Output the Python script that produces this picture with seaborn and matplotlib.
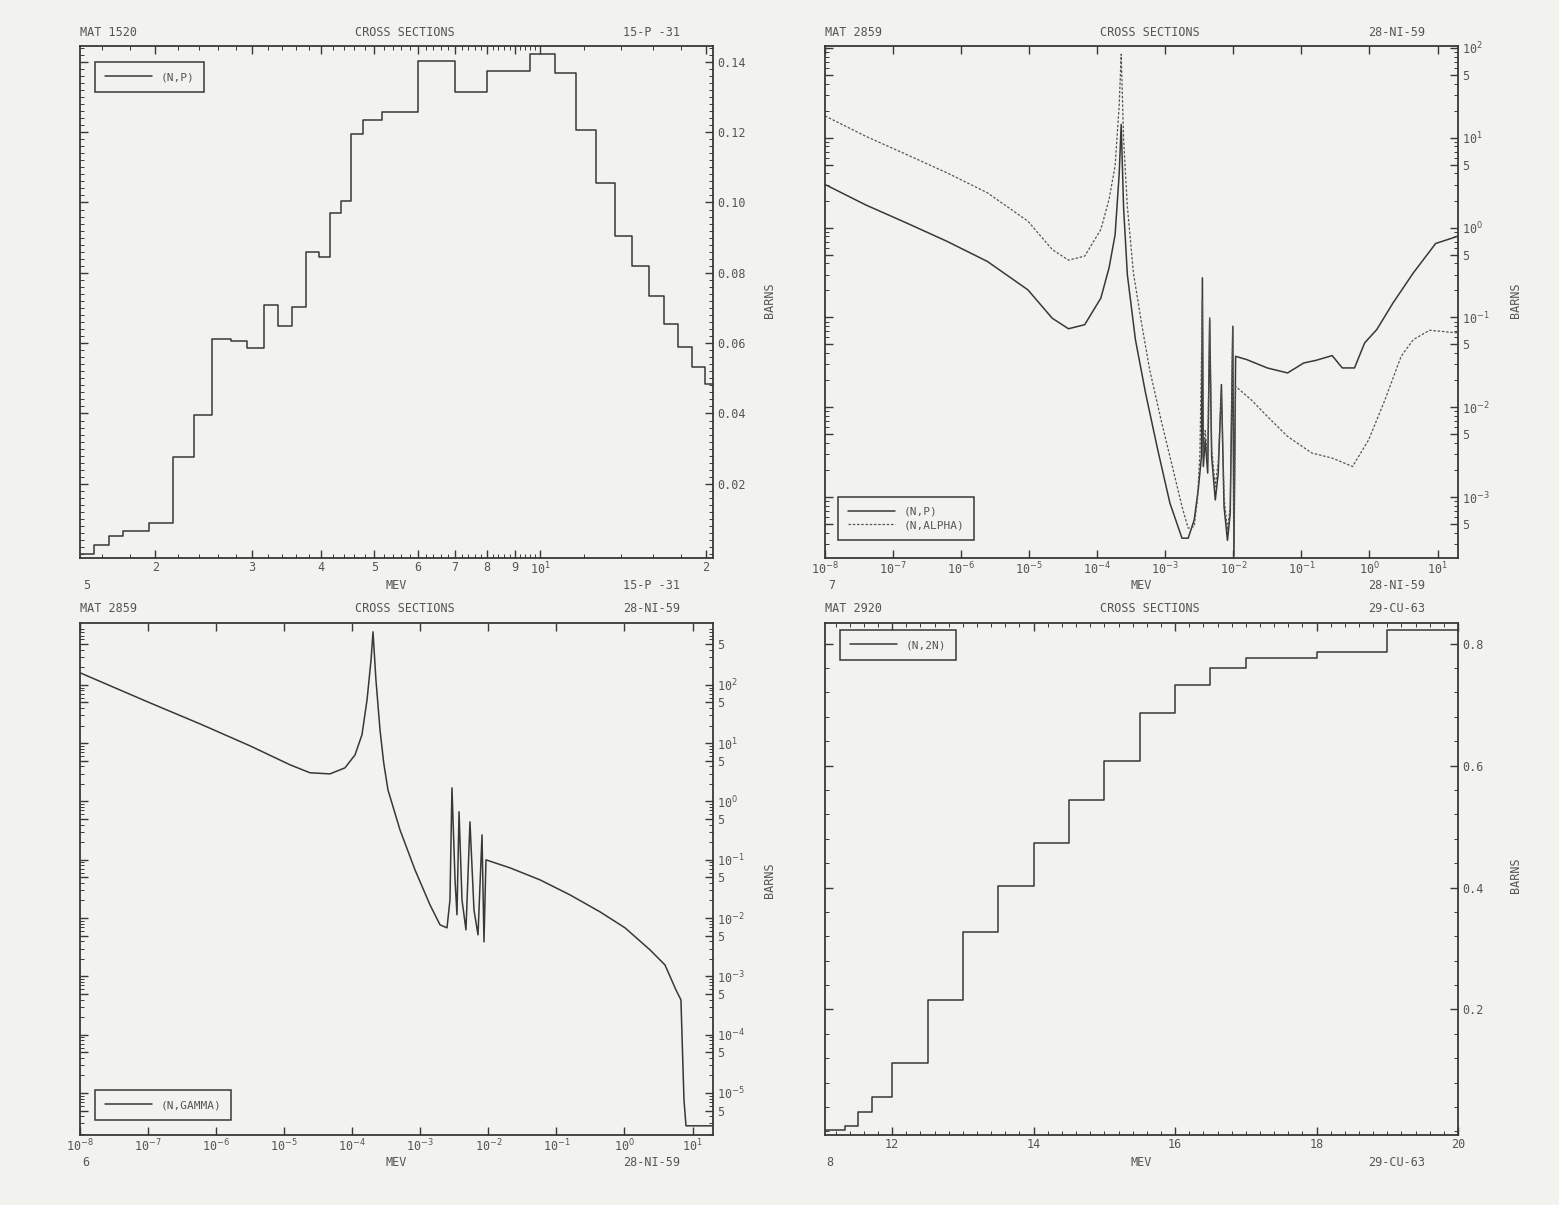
import numpy as np
import pandas as pd
import matplotlib
matplotlib.use("Agg")
import matplotlib.pyplot as plt
import seaborn as sns
from matplotlib.ticker import FixedLocator, FixedFormatter, LogLocator, MultipleLocator, NullFormatter

# ---------------- data ----------------
# Panel 1: MAT 1520, 15-P-31 (N,P) group histogram
p31_edges = [1.46, 1.55, 1.65, 1.75, 1.95, 2.15, 2.35, 2.54, 2.74, 2.94, 3.15, 3.34, 3.54, 3.75,
             3.96, 4.16, 4.35, 4.54, 4.76, 5.17, 6.0, 6.99, 8.01, 9.6, 10.62, 11.63, 12.65, 13.68,
             14.67, 15.78, 16.8, 17.77, 18.89, 19.9, 20.6]
p31_np = [0.0, 0.0026, 0.0052, 0.0067, 0.0088, 0.0276, 0.0396, 0.0612, 0.0605, 0.0586, 0.0709,
          0.0650, 0.0702, 0.0860, 0.0845, 0.0970, 0.1005, 0.1194, 0.1235, 0.1257, 0.1402, 0.1313,
          0.1373, 0.1421, 0.1367, 0.1207, 0.1056, 0.0906, 0.0820, 0.0733, 0.0654, 0.0588, 0.0532,
          0.0484]

# Panel 2: MAT 2859, 28-NI-59 (N,P) and (N,ALPHA)
ni59_np_e = [1e-8, 3.95e-8, 1.56e-7, 6.15e-7, 2.43e-6, 9.57e-6, 2.18e-5, 3.78e-5, 6.54e-5, 1.13e-4,
             1.49e-4, 1.83e-4, 2.10e-4, 2.25e-4, 2.44e-4, 2.77e-4, 3.64e-4, 5.13e-4, 7.74e-4,
             1.17e-3, 1.76e-3, 2.17e-3, 2.66e-3, 3.05e-3, 3.40e-3, 3.51e-3, 3.62e-3, 3.86e-3,
             4.2e-3, 4.49e-3, 4.8e-3, 5.43e-3, 6.0e-3, 6.68e-3, 7.3e-3, 8.20e-3, 9.0e-3, 9.81e-3,
             1.02e-2, 1.08e-2, 1.58e-2, 3.15e-2, 6.26e-2, 0.108, 0.164, 0.283, 0.399, 0.603, 0.849,
             1.28, 2.22, 4.41, 9.39, 20.0]
ni59_np_s = [3.02, 1.79, 1.13, 0.705, 0.42, 0.203, 0.098, 0.0748, 0.083, 0.164, 0.355, 0.83, 3.9,
             14.1, 1.66, 0.30, 0.0566, 0.0144, 3.37e-3, 8.57e-4, 3.49e-4, 3.49e-4, 5.58e-4,
             1.21e-3, 2.84e-3, 0.276, 2.19e-3, 4.35e-3, 1.85e-3, 0.0946, 2.84e-3, 9.3e-4, 1.85e-3,
             0.0179, 7.86e-4, 3.3e-4, 6.6e-4, 0.0797, 2.2e-4, 0.0369, 0.0339, 0.0274, 0.0241,
             0.0311, 0.0333, 0.0376, 0.0274, 0.0274, 0.052, 0.0732, 0.145, 0.313, 0.665, 0.803]
ni59_na_e = [1e-8, 3.95e-8, 1.56e-7, 6.15e-7, 2.43e-6, 9.57e-6, 2.18e-5, 3.78e-5, 6.54e-5, 1.13e-4,
             1.49e-4, 1.83e-4, 2.10e-4, 2.25e-4, 2.44e-4, 2.77e-4, 3.40e-4, 4.47e-4, 5.89e-4,
             8.88e-4, 1.34e-3, 1.76e-3, 2.17e-3, 2.66e-3, 2.97e-3, 3.23e-3, 3.51e-3, 3.62e-3,
             3.86e-3, 4.2e-3, 4.49e-3, 4.8e-3, 5.43e-3, 6.0e-3, 6.68e-3, 7.3e-3, 8.20e-3, 9.0e-3,
             9.81e-3, 1.02e-2, 1.08e-2, 1.82e-2, 3.15e-2, 6.26e-2, 0.1426, 0.283, 0.564, 0.975,
             1.69, 2.92, 4.41, 7.64, 20.0]
ni59_na_s = [17.5, 10.4, 6.53, 4.08, 2.44, 1.18, 0.570, 0.434, 0.481, 0.953, 2.06, 4.84, 22.6, 85.0,
             9.6, 1.73, 0.313, 0.0869, 0.0262, 6.67e-3, 1.85e-3, 7.86e-4, 4.51e-4, 4.71e-4, 9.33e-4,
             3.09e-3, 0.158, 3.0e-3, 5.5e-3, 2.6e-3, 0.099, 3.5e-3, 1.3e-3, 2.5e-3, 0.0144, 1.0e-3,
             4.3e-4, 8.0e-4, 0.080, 3.3e-4, 0.0171, 0.01215, 7.92e-3, 4.74e-3, 3.09e-3, 2.72e-3,
             2.19e-3, 4.35e-3, 0.0121, 0.0369, 0.0566, 0.0720, 0.0672]

# Panel 3: MAT 2859, 28-NI-59 (N,GAMMA)
ni59_ng_e = [1e-8, 1.07e-7, 5.80e-7, 3.15e-6, 1.22e-5, 2.40e-5, 4.71e-5, 7.83e-5, 1.10e-4, 1.39e-4,
             1.65e-4, 1.89e-4, 2.02e-4, 2.23e-4, 2.56e-4, 2.9e-4, 3.35e-4, 5.03e-4, 8.36e-4,
             1.39e-3, 1.95e-3, 2.47e-3, 2.73e-3, 2.92e-3, 3.24e-3, 3.46e-3, 3.71e-3, 4.10e-3,
             4.69e-3, 5.37e-3, 6.15e-3, 7.05e-3, 8.07e-3, 8.63e-3, 9.23e-3, 2.08e-2, 5.74e-2, 0.158,
             0.436, 1.02, 2.37, 3.94, 5.71, 6.76, 7.49, 8.02, 20.0]
ni59_ng_s = [161.0, 49.0, 21.4, 8.99, 4.25, 3.10, 2.97, 3.77, 6.30, 13.9, 55.0, 268.0, 811.0, 122.0,
             16.9, 4.6, 1.58, 0.326, 0.0671, 0.0168, 7.64e-3, 6.79e-3, 0.0205, 1.71, 0.0452, 0.0114,
             0.664, 0.0205, 6.27e-3, 0.447, 0.0138, 5.15e-3, 0.267, 3.91e-3, 0.0995, 0.0726,
             0.0452, 0.0250, 0.0128, 6.79e-3, 2.85e-3, 1.57e-3, 5.86e-4, 3.95e-4, 7.6e-6, 2.73e-6,
             2.73e-6]

# Panel 4: MAT 2920, 29-CU-63 (N,2N) group histogram
cu63_edges = [11.05, 11.33, 11.52, 11.72, 12.0, 12.5, 13.0, 13.5, 14.0, 14.5, 15.0, 15.5, 16.0,
              16.5, 17.0, 18.0, 19.0, 20.0]
cu63_n2n = [0.002, 0.008, 0.031, 0.056, 0.112, 0.215, 0.327, 0.402, 0.473, 0.543, 0.607, 0.687,
            0.732, 0.760, 0.776, 0.787, 0.822]

# tick labels
p31_xticks = [2, 3, 4, 5, 6, 7, 8, 9, 10, 20]
p31_xlabels = ["2", "3", "4", "5", "6", "7", "8", "9", "10$^{1}$", "2"]
lin_p31_yticks = [0.02, 0.04, 0.06, 0.08, 0.10, 0.12, 0.14]
lin_cu_yticks = [0.2, 0.4, 0.6, 0.8]
cu_xticks = [12, 14, 16, 18, 20]
decades_x = [-8, -7, -6, -5, -4, -3, -2, -1, 0, 1]

# ---------------- style ----------------
sns.set_theme(style="ticks")
plt.rcParams["font.family"] = ["DejaVu Sans Mono", "DejaVu Sans"]
plt.rcParams["mathtext.fontset"] = "dejavusans"

PAPER = "#f2f2ef"
INK = "#383838"
TXT = "#555555"
FS = 8.5
W, H = 1559.0, 1205.0

fig = plt.figure(figsize=(15.59, 12.05), dpi=100, facecolor=PAPER)


def make_ax(x0, y0, x1, y1):
    ax = fig.add_axes([x0 / W, 1 - y1 / H, (x1 - x0) / W, (y1 - y0) / H])
    ax.set_facecolor(PAPER)
    for s in ax.spines.values():
        s.set_color(INK)
        s.set_linewidth(1.3)
    ax.tick_params(which="both", direction="in", top=True, right=True, left=True, bottom=True,
                   labelleft=False, labelright=True, labelbottom=True, labeltop=False,
                   colors=INK, labelcolor=TXT, labelsize=FS)
    ax.tick_params(which="major", length=6, width=1.0, pad=3)
    ax.tick_params(which="minor", length=3, width=0.7)
    ax.tick_params(axis="x", which="major", pad=2)
    return ax


def finish(ax):
    ax.set_xlabel("")
    ax.set_ylabel("")


def leg(ax, loc, anchor):
    lg = ax.legend(loc=loc, bbox_to_anchor=anchor, borderaxespad=0, frameon=True, fancybox=False,
                   edgecolor=INK, facecolor=PAPER, framealpha=1, handlelength=4.2,
                   fontsize=FS - 0.5, borderpad=0.9, labelspacing=0.3)
    lg.get_frame().set_linewidth(1.1)
    for t in lg.get_texts():
        t.set_color(TXT)


def log_xaxis(ax):
    ax.set_xscale("log")
    ax.set_xlim(1e-8, 20.0)
    ax.xaxis.set_major_locator(FixedLocator([10.0 ** d for d in decades_x]))
    ax.xaxis.set_major_formatter(FixedFormatter(["10$^{%d}$" % d for d in decades_x]))
    ax.xaxis.set_minor_locator(LogLocator(base=10, subs=np.arange(2, 10)))
    ax.xaxis.set_minor_formatter(NullFormatter())


def log_yaxis(ax, dlist, lo, hi, top5=False):
    pos, lab = [], []
    for d in dlist:
        pos += [10.0 ** d, 5 * 10.0 ** (d - 1)]
        lab += ["10$^{%d}$" % d, "5"]
    if top5:
        pos.append(5 * 10.0 ** dlist[-1])
        lab.append("5")
    ax.set_yscale("log")
    ax.set_ylim(lo, hi)
    ax.yaxis.set_major_locator(FixedLocator(pos))
    ax.yaxis.set_major_formatter(FixedFormatter(lab))
    ax.yaxis.set_minor_locator(LogLocator(base=10, subs=[2, 3, 4, 6, 7, 8, 9]))
    ax.yaxis.set_minor_formatter(NullFormatter())


# ---------------- panel 1 ----------------
ax1 = make_ax(80, 46, 713, 558)
df1 = pd.DataFrame({"E": p31_edges, "S": p31_np + [p31_np[-1]]})
sns.lineplot(data=df1, x="E", y="S", ax=ax1, estimator=None, sort=False, drawstyle="steps-post",
             color=INK, lw=1.1, label="(N,P)")
ax1.set_xscale("log")
ax1.set_xlim(1.46, 20.6)
ax1.set_ylim(-0.0011, 0.1445)
ax1.xaxis.set_major_locator(FixedLocator(p31_xticks))
ax1.xaxis.set_major_formatter(FixedFormatter(p31_xlabels))
ax1.xaxis.set_minor_locator(LogLocator(base=10, subs=np.arange(1.0, 10.0, 0.2)))
ax1.xaxis.set_minor_formatter(NullFormatter())
ax1.yaxis.set_major_locator(FixedLocator(lin_p31_yticks))
ax1.yaxis.set_major_formatter(FixedFormatter(["%.2f" % v for v in lin_p31_yticks]))
ax1.yaxis.set_minor_locator(MultipleLocator(0.002))
finish(ax1)
leg(ax1, "upper left", (15 / 633, 1 - 16 / 512))

# ---------------- panel 2 ----------------
ax2 = make_ax(825, 46, 1458, 558)
df2a = pd.DataFrame({"E": ni59_np_e, "S": ni59_np_s})
df2b = pd.DataFrame({"E": ni59_na_e, "S": ni59_na_s})
sns.lineplot(data=df2a, x="E", y="S", ax=ax2, estimator=None, sort=False, color=INK, lw=1.1,
             label="(N,P)")
sns.lineplot(data=df2b, x="E", y="S", ax=ax2, estimator=None, sort=False, color="#555555",
             lw=0.9, linestyle=(0, (2.0, 1.4)), label="(N,ALPHA)")
log_xaxis(ax2)
log_yaxis(ax2, [-3, -2, -1, 0, 1, 2], 2.1e-4, 1.05e2)
finish(ax2)
leg(ax2, "lower left", (13 / 633, 18 / 512))

# ---------------- panel 3 ----------------
ax3 = make_ax(80, 623, 713, 1135)
df3 = pd.DataFrame({"E": ni59_ng_e, "S": ni59_ng_s})
sns.lineplot(data=df3, x="E", y="S", ax=ax3, estimator=None, sort=False, color=INK, lw=1.1,
             label="(N,GAMMA)")
log_xaxis(ax3)
log_yaxis(ax3, [-5, -4, -3, -2, -1, 0, 1, 2], 1.9e-6, 1.15e3, top5=True)
finish(ax3)
leg(ax3, "lower left", (15 / 633, 15 / 512))

# ---------------- panel 4 ----------------
ax4 = make_ax(825, 623, 1458, 1135)
df4 = pd.DataFrame({"E": cu63_edges, "S": cu63_n2n + [cu63_n2n[-1]]})
sns.lineplot(data=df4, x="E", y="S", ax=ax4, estimator=None, sort=False, drawstyle="steps-post",
             color=INK, lw=1.1, label="(N,2N)")
ax4.set_xlim(11.05, 20.0)
ax4.set_ylim(-0.006, 0.834)
ax4.xaxis.set_major_locator(FixedLocator(cu_xticks))
ax4.xaxis.set_major_formatter(FixedFormatter([str(v) for v in cu_xticks]))
ax4.xaxis.set_minor_locator(MultipleLocator(0.2))
ax4.yaxis.set_major_locator(FixedLocator(lin_cu_yticks))
ax4.yaxis.set_major_formatter(FixedFormatter(["%.1f" % v for v in lin_cu_yticks]))
ax4.yaxis.set_minor_locator(MultipleLocator(0.04))
finish(ax4)
leg(ax4, "upper left", (15 / 633, 1 - 7 / 512))

# ---------------- page texts ----------------
def t(x, y, s, ha="left", **kw):
    fig.text(x / W, 1 - y / H, s, ha=ha, va="center", fontsize=FS, color=TXT, **kw)

for (xl, xc, xr, yh, yb, mat, iso, num, xnum) in [
        (80, 405, 680, 33, 585, "MAT 1520", "15-P -31", "5", 83),
        (825, 1150, 1425, 33, 585, "MAT 2859", "28-NI-59", "7", 828),
        (80, 405, 680, 609, 1163, "MAT 2859", "28-NI-59", "6", 82),
        (825, 1150, 1425, 609, 1163, "MAT 2920", "29-CU-63", "8", 826)]:
    t(xl, yh, mat)
    t(xc, yh, "CROSS SECTIONS", ha="center")
    t(xr, yh, iso, ha="right")
    t(xnum, yb, num)
    t(xc - 9, yb, "MEV", ha="center")
    t(xr, yb, iso, ha="right")

for (xb, yb) in [(770, 300), (1515, 300), (770, 880), (1515, 875)]:
    t(xb, yb, "BARNS", ha="center", rotation=90)

fig.savefig("out.png", dpi=100, facecolor=PAPER)
